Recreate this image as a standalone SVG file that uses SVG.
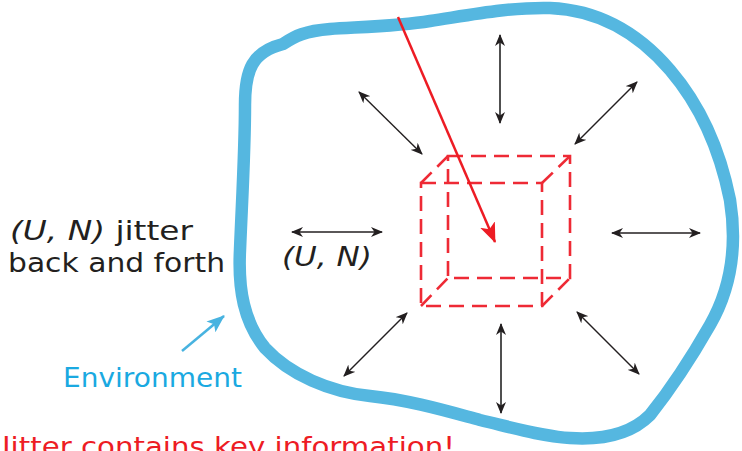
<svg xmlns="http://www.w3.org/2000/svg" width="742" height="451" viewBox="0 0 742 451">
<style>
.txt{font-family:"DejaVu Sans","Noto Sans",sans-serif;font-size:27px}
.blk{stroke:#231f20;stroke-width:1.4;fill:none;marker-start:url(#ah);marker-end:url(#ah)}
.vrt{stroke:#3d3d3d;stroke-width:1.8}
.cube{stroke:#ee2a35;stroke-width:2.6;fill:none;stroke-dasharray:15 8}
</style>
<defs>
<marker id="ah" viewBox="0 0 12 10" refX="11" refY="5" markerWidth="12" markerHeight="10" markerUnits="userSpaceOnUse" orient="auto-start-reverse">
<path d="M0,0 L12,5 L0,10 L3.5,5 Z" fill="#231f20"/>
</marker>
<marker id="rh" viewBox="0 0 20 16" refX="19" refY="8" markerWidth="20" markerHeight="16" markerUnits="userSpaceOnUse" orient="auto">
<path d="M0,0 L20,8 L0,16 L5,8 Z" fill="#ed1c24"/>
</marker>
<marker id="ch" viewBox="0 0 18 14" refX="17" refY="7" markerWidth="18" markerHeight="14" markerUnits="userSpaceOnUse" orient="auto">
<path d="M0,0 L18,7 L0,14 L4,7 Z" fill="#48b3e0"/>
</marker>
</defs>
<g id="environment">
<path d="M283,44 C295,36 305,31 330,29 C360,27 400,26 430,21 C470,15 510,7 550,8 C600,10 640,35 670,70 C700,105 720,150 730,200 C738,250 730,290 710,325 C690,360 670,390 650,415 C630,435 600,440 570,438 C540,436 510,427 480,420 C450,412 410,400 370,396 C330,392 290,375 265,348 C244,322 238,290 240,250 C242,200 245,150 245,105 C245,70 252,52 283,44 Z" fill="none" stroke="#55b7e0" stroke-width="12.5" stroke-linejoin="round"/>
</g>
<g id="cube">
<rect class="cube" x="421" y="183" width="121" height="123"/>
<rect class="cube" x="448" y="156" width="122" height="122"/>
<line class="cube" x1="421" y1="183" x2="448" y2="156"/>
<line class="cube" x1="542" y1="183" x2="570" y2="156"/>
<line class="cube" x1="542" y1="306" x2="570" y2="278"/>
<line class="cube" x1="421" y1="306" x2="448" y2="278"/>
</g>
<g id="connectors">
<line class="blk vrt" x1="500" y1="35" x2="500" y2="123"/>
<line class="blk" x1="359" y1="92" x2="422" y2="154"/>
<line class="blk" x1="637" y1="82" x2="575" y2="144"/>
<line class="blk" x1="612" y1="233" x2="700" y2="233"/>
<line class="blk" x1="577" y1="312" x2="639" y2="374"/>
<line class="blk vrt" x1="501" y1="324" x2="501" y2="413"/>
<line class="blk" x1="407" y1="313" x2="344" y2="376"/>
<line class="blk" x1="292" y1="232" x2="382" y2="232"/>
<line x1="398" y1="17" x2="495" y2="242" stroke="#ed1c24" stroke-width="2.5" marker-end="url(#rh)"/>
<line x1="182" y1="351" x2="224" y2="316" stroke="#48b3e0" stroke-width="2.5" marker-end="url(#ch)"/>
</g>
<g id="labels">
<text class="txt" x="10" y="240" textLength="183" lengthAdjust="spacingAndGlyphs" fill="#231f20"><tspan font-style="italic">(U, N)</tspan> jitter</text>
<text class="txt" x="8" y="272" textLength="217" lengthAdjust="spacingAndGlyphs" fill="#231f20">back and forth</text>
<text class="txt" x="282" y="266" textLength="90" lengthAdjust="spacingAndGlyphs" fill="#231f20" font-style="italic">(U, N)</text>
<text class="txt" x="63" y="387" textLength="179" lengthAdjust="spacingAndGlyphs" fill="#1aa9e1">Environment</text>
<text class="txt" x="2" y="456" textLength="453" lengthAdjust="spacingAndGlyphs" fill="#ed1c24" font-size="29">Jitter contains key information!</text>
</g>
</svg>
